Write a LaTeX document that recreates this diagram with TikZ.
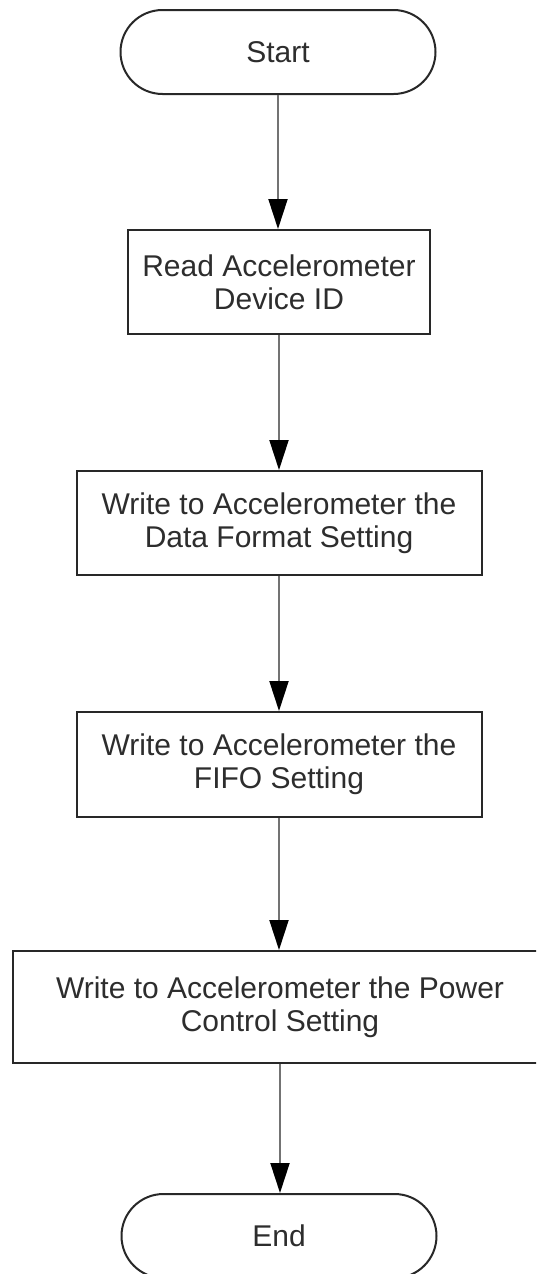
\documentclass[tikz,border=0pt]{standalone}
\usepackage{fontspec}
\setmainfont{Liberation Sans}
\usetikzlibrary{arrows.meta}
\definecolor{edgeink}{RGB}{40,40,40}
\definecolor{flowink}{RGB}{115,115,115}
\definecolor{textink}{RGB}{45,45,45}
\tikzset{
  x=1pt, y=-1pt,
  stepbox/.style={draw=edgeink, line width=2pt, fill=white, align=center,
    text=textink, font=\fontsize{30}{33}\selectfont, inner sep=0pt},
  terminal/.style={stepbox, rounded corners=42pt, minimum width=315pt, minimum height=84pt},
  flow/.style={draw=flowink, line width=2pt,
    -{Triangle[length=30pt, width=19pt, color=black, fill=black]}}
}
\begin{document}
\begin{tikzpicture}
\clip (0,0) rectangle (536,1274);
\fill[white] (0,0) rectangle (536,1274);

\node[terminal] (start) at (278,52) {Start};
\node[stepbox, minimum width=302pt, minimum height=104pt] (read) at (279,282)
  {Read Accelerometer\\Device ID};
\node[stepbox, minimum width=405pt, minimum height=104pt] (fmt) at (279,523)
  {Write to Accelerometer the\\Data Format Setting};
\node[stepbox, minimum width=405pt, minimum height=105pt] (fifo) at (279,764.5)
  {Write to Accelerometer the\\FIFO Setting};
\node[stepbox, minimum width=534pt, minimum height=112pt] (power) at (280,1007)
  {Write to Accelerometer the Power\\Control Setting};
\node[terminal] (end) at (279,1236) {End};

\draw[flow] (start) -- (start |- read.north);
\draw[flow] (read) -- (read |- fmt.north);
\draw[flow] (fmt) -- (fmt |- fifo.north);
\draw[flow] (fifo) -- (fifo |- power.north);
\draw[flow] (power) -- (power |- end.north);
\end{tikzpicture}
\end{document}
